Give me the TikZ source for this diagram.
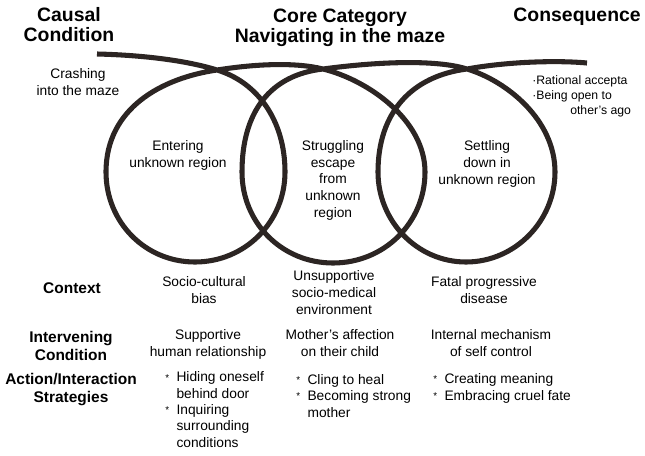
\documentclass[tikz,border=0pt]{standalone}
\usepackage{fontspec}
\setmainfont{Liberation Sans}
\definecolor{mazeink}{RGB}{44,37,35}
\newcommand{\stratbul}{\makebox[8pt][l]{\raisebox{0.1ex}{\scriptsize *}}}
\newcommand{\stratpad}{\hspace*{8pt}}
\tikzset{
  mazeline/.style={draw=mazeink, line width=3.6pt},
  headtext/.style={font=\fontsize{13.8}{14.2}\selectfont\bfseries, align=center, inner sep=0pt, anchor=base},
  rowtext/.style={font=\fontsize{11}{12.8}\selectfont\bfseries, align=center, inner sep=0pt, anchor=base},
  celltext/.style={font=\fontsize{9.8}{11.8}\selectfont, align=center, inner sep=0pt, anchor=base},
  listtext/.style={font=\fontsize{9.8}{11.6}\selectfont, align=left, inner sep=0pt, anchor=base west}
}

\begin{document}
\begin{tikzpicture}[x=0.025cm, y=-0.025cm]
    \useasboundingbox (0,0) rectangle (645,455);

    % the maze: one line coiled into three loops
    \coordinate (mstart) at (97,54);
    \coordinate (cross1) at (217,70);
    \coordinate (cross2) at (323,69);
    \coordinate (cross3) at (467,69);
    \coordinate (mend) at (587,63);
    \draw[mazeline] (mstart) .. controls (140,55) and (185,60) .. (cross1)
      .. controls (257,82) and (285,120) .. (285,172)
      .. controls (285,222) and (245,262) .. (195,262)
      .. controls (145,262) and (106,222) .. (106,172)
      .. controls (106,108) and (162,78) .. (cross1)
      .. controls (255,64) and (295,62) .. (cross2)
      .. controls (368,80) and (425,120) .. (425,172)
      .. controls (425,223) and (384,263) .. (333,263)
      .. controls (282,263) and (242,223) .. (242,172)
      .. controls (242,112) and (270,75) .. (cross2)
      .. controls (375,62) and (435,59) .. (cross3)
      .. controls (507,81) and (555,120) .. (555,172)
      .. controls (555,221) and (515,262) .. (466,262)
      .. controls (417,262) and (378,221) .. (378,172)
      .. controls (378,112) and (412,76) .. (cross3)
      .. controls (505,62) and (555,60) .. (mend);

    % column heads (base = last line)
    \node[headtext] (causal) at (69,41) {Causal\\Condition};
    \node[headtext] (core) at (340,42) {Core Category\\Navigating in the maze};
    \node[headtext, anchor=base east] (conseq) at (641,21) {Consequence};

    % around the maze
    \node[celltext] (crash) at (78,95) {Crashing\\into the maze};
    \node[listtext, font=\fontsize{8.7}{10.4}\selectfont] (accept) at (532,114)
      {·Rational accepta\\·Being open to\\\hspace*{27pt}other’s ago};

    % inside the loops
    \node[celltext] (enter) at (178,167) {Entering\\unknown region};
    \node[celltext] (struggle) at (333,217) {Struggling\\escape\\from\\unknown\\region};
    \node[celltext] (settle) at (487,184) {Settling\\down in\\unknown region};

    % rows
    \node[rowtext] (context) at (72,293) {Context};
    \node[celltext] (ctxa) at (204,303) {Socio-cultural\\bias};
    \node[celltext] (ctxb) at (334,314) {Unsupportive\\socio-medical\\environment};
    \node[celltext] (ctxc) at (484,303) {Fatal progressive\\disease};

    \node[rowtext] (interv) at (71,360) {Intervening\\Condition};
    \node[celltext] (intva) at (208,356) {Supportive\\human relationship};
    \node[celltext] (intvb) at (340,356) {Mother’s affection\\on their child};
    \node[celltext] (intvc) at (491,356) {Internal mechanism\\of self control};

    \node[rowtext] (action) at (71,402) {Action/Interaction\\Strategies};
    \node[listtext] (strata) at (165,447)
      {\stratbul Hiding oneself\\\stratpad behind door\\\stratbul Inquiring\\\stratpad surrounding\\\stratpad conditions};
    \node[listtext] (stratb) at (296,417)
      {\stratbul Cling to heal\\\stratbul Becoming strong\\\stratpad mother};
    \node[listtext] (stratc) at (433,400)
      {\stratbul Creating meaning\\\stratbul Embracing cruel fate};
  \end{tikzpicture}
\end{document}
